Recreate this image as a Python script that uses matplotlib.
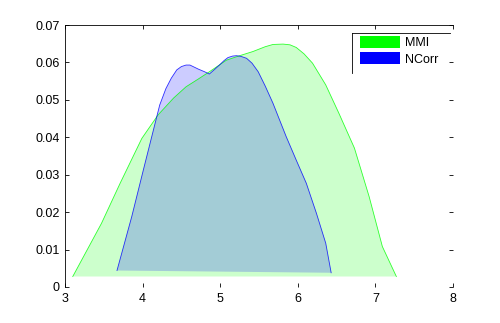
import matplotlib
matplotlib.use("Agg")
import matplotlib.pyplot as plt
from matplotlib.patches import Patch
from matplotlib.lines import Line2D

plt.rcParams["font.family"] = ["Liberation Sans", "DejaVu Sans"]

# DATA
mmi_x = [3.10, 3.47, 3.71, 3.99, 4.20, 4.40, 4.56, 4.72, 4.86, 5.08, 5.25,
         5.42, 5.58, 5.68, 5.81, 5.90, 5.98, 6.08, 6.19, 6.36, 6.53, 6.73,
         6.92, 7.09, 7.27]
mmi_y = [0.0028, 0.0170, 0.0277, 0.0397, 0.0460, 0.0505, 0.0535, 0.0556,
         0.0575, 0.0606, 0.0618, 0.0629, 0.0642, 0.0648, 0.0649, 0.0647,
         0.0640, 0.0623, 0.0598, 0.0540, 0.0464, 0.0371, 0.0241, 0.0108,
         0.0028]

ncorr_x = [3.67, 3.86, 4.01, 4.14, 4.22, 4.30, 4.37, 4.44, 4.50, 4.56, 4.61,
           4.66, 4.72, 4.80, 4.86, 4.92, 4.99, 5.05, 5.10, 5.16, 5.21, 5.27,
           5.34, 5.41, 5.49, 5.58, 5.68, 5.85, 5.98, 6.11, 6.24, 6.36, 6.43]
ncorr_y = [0.0044, 0.0188, 0.0313, 0.0420, 0.0486, 0.0530, 0.0558, 0.0580,
           0.0589, 0.0593, 0.0593, 0.0588, 0.0582, 0.0575, 0.0569, 0.0580,
           0.0593, 0.0605, 0.0613, 0.0617, 0.0618, 0.0616, 0.0611, 0.0598,
           0.0575, 0.0537, 0.0491, 0.0402, 0.0339, 0.0277, 0.0197, 0.0117,
           0.0038]

labels = ["MMI", "NCorr"]
colors = ["#00ff00", "#0000ff"]

fig = plt.figure(figsize=(5.0, 3.23), dpi=100)
ax = fig.add_axes([0.13, 0.1115, 0.776, 0.8111])

for xs, ys, c in [(mmi_x, mmi_y, colors[0]), (ncorr_x, ncorr_y, colors[1])]:
    ax.fill(xs, ys, facecolor=c, alpha=0.2, edgecolor="none")
    ax.plot(xs, ys, color=c, linewidth=0.6, alpha=0.8)

ax.set_xlim(3, 8)
ax.set_ylim(0, 0.07)
ax.set_xticks(range(3, 9))
ax.set_yticks([0, 0.01, 0.02, 0.03, 0.04, 0.05, 0.06, 0.07])
ax.set_yticklabels(["0", "0.01", "0.02", "0.03", "0.04", "0.05", "0.06", "0.07"])
ax.tick_params(direction="in", length=3, width=0.6, labelsize=9,
               top=True, right=True, pad=4)
ax.spines["bottom"].set_visible(False)
ax.spines["right"].set_visible(False)
for s in ["top", "left"]:
    ax.spines[s].set_linewidth(0.6)

# legend (only top and left frame edges show in the reference)
handles = [Patch(facecolor=c, edgecolor="none") for c in colors]
fig.legend(handles, labels, loc="upper left",
           bbox_to_anchor=(360 / 500, 1 - 36 / 323),
           frameon=False, fontsize=9, handlelength=3.2, handleheight=1.1,
           handletextpad=0.4, labelspacing=0.25, borderpad=0.0,
           borderaxespad=0.0)
fig.add_artist(Line2D([352 / 500, 450 / 500], [1 - 33 / 323, 1 - 33 / 323],
                      color="black", linewidth=0.6, transform=fig.transFigure))
fig.add_artist(Line2D([352 / 500, 352 / 500], [1 - 33 / 323, 1 - 73 / 323],
                      color="black", linewidth=0.6, transform=fig.transFigure))

fig.savefig("out.png", dpi=100)
